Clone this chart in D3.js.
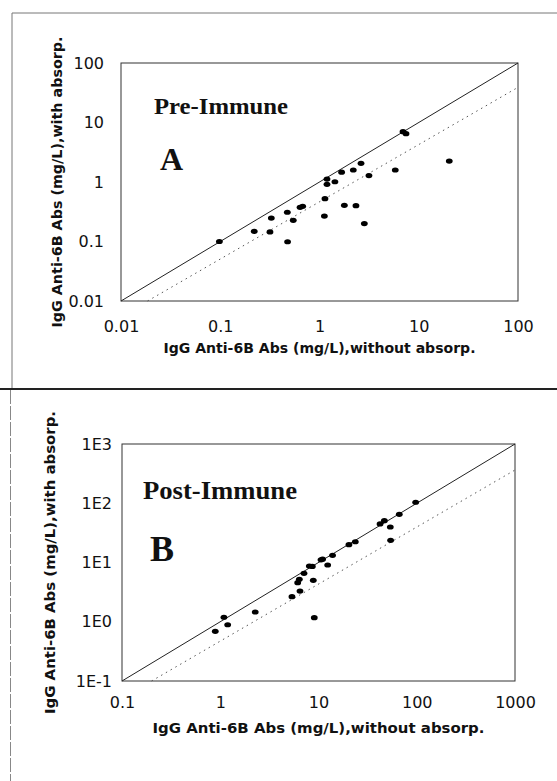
<!DOCTYPE html>
<html>
<head>
<meta charset="utf-8">
<script src="https://cdn.jsdelivr.net/npm/d3@7"></script>
<style>
  body { margin: 0; background: #fff; }
  svg { display: block; }
</style>
</head>
<body>
<svg id="chart" width="557" height="781"></svg>
<script>
// Panel A (pre-immune) values, mg/L
const preX = [0.098, 0.22, 0.317, 0.327, 0.477, 0.474, 0.544, 0.637, 0.677, 1.12, 1.135, 1.19, 1.19, 1.43, 1.67, 1.78, 2.19, 2.33, 2.62, 2.83, 3.15, 5.8, 6.94, 7.44, 20.3];
const preY = [0.1, 0.148, 0.145, 0.248, 0.099, 0.31, 0.227, 0.376, 0.39, 0.268, 0.525, 1.12, 0.914, 1.01, 1.46, 0.406, 1.59, 0.4, 2.06, 0.2, 1.28, 1.59, 7.0, 6.5, 2.25];

// Panel B (post-immune) values, mg/L
const postX = [0.89, 1.09, 1.19, 2.27, 5.37, 6.14, 6.38, 6.48, 7.12, 8.06, 8.65, 8.85, 9.06, 10.6, 11.0, 12.4, 13.9, 20.4, 23.7, 42.3, 46.8, 53.8, 54.2, 66.4, 97.5];
const postY = [0.69, 1.19, 0.89, 1.46, 2.65, 4.57, 5.2, 3.3, 6.56, 8.73, 8.6, 5.0, 1.17, 11.1, 11.4, 9.08, 13.2, 20.0, 22.4, 44.7, 50.8, 39.7, 23.7, 65.1, 104];

// dotted reference lines (end points)
const preFit = [[0.0185, 0.01], [100, 39]];
const postFit = [[0.2, 0.1], [1000, 364]];

const preTicks = [0.01, 0.1, 1, 10, 100];
const preTickLabels = ["0.01", "0.1", "1", "10", "100"];
const postXTicks = [0.1, 1, 10, 100, 1000];
const postXTickLabels = ["0.1", "1", "10", "100", "1000"];
const postYTicks = [0.1, 1, 10, 100, 1000];
const postYTickLabels = ["1E-1", "1E0", "1E1", "1E2", "1E3"];

const xTitle = "IgG Anti-6B Abs (mg/L),without absorp.";
const yTitle = "IgG Anti-6B Abs (mg/L),with absorp.";

const sans = "'DejaVu Sans', Arial, sans-serif";
const serif = "'Liberation Serif', 'Times New Roman', serif";

const svg = d3.select("#chart");

// panel frames
svg.append("path").attr("d", "M12,388V13H557").attr("fill", "none")
    .attr("stroke", "#777").attr("stroke-width", 1);
svg.append("line").attr("x1", 0).attr("x2", 557).attr("y1", 389).attr("y2", 389)
    .attr("stroke", "#222").attr("stroke-width", 2);
svg.append("line").attr("x1", 10.5).attr("x2", 10.5).attr("y1", 390).attr("y2", 781)
    .attr("stroke", "#888").attr("stroke-width", 1).attr("stroke-dasharray", "14,2");

function panel(o) {
    const x = d3.scaleLog().domain(o.xDomain).range([o.left, o.right]);
    const y = d3.scaleLog().domain(o.yDomain).range([o.bottom, o.top]);
    const g = svg.append("g");

    g.append("rect")
        .attr("x", o.left).attr("y", o.top)
        .attr("width", o.right - o.left).attr("height", o.bottom - o.top)
        .attr("fill", "none").attr("stroke", "#333").attr("stroke-width", 1);

    const xAxis = g.append("g")
        .attr("transform", `translate(0,${o.bottom})`)
        .call(d3.axisBottom(x).tickValues(o.xTicks).tickSize(0).tickPadding(o.xPad)
            .tickFormat((d, i) => o.xLabels[i]));
    const yAxis = g.append("g")
        .attr("transform", `translate(${o.left},0)`)
        .call(d3.axisLeft(y).tickValues(o.yTicks).tickSize(0).tickPadding(o.yPad)
            .tickFormat((d, i) => o.yLabels[i]));
    [xAxis, yAxis].forEach(a => {
        a.select(".domain").remove();
        a.selectAll("text").attr("font-family", sans)
            .attr("font-size", "16px").attr("fill", "#111");
    });

    // identity line
    const line = d3.line().x(d => x(d[0])).y(d => y(d[1]));
    g.append("path")
        .attr("d", line([[o.xDomain[0], o.yDomain[0]], [o.xDomain[1], o.yDomain[1]]]))
        .attr("stroke", "#222").attr("stroke-width", 1).attr("fill", "none");
    g.append("path")
        .attr("d", line(o.fit))
        .attr("stroke", "#555").attr("stroke-width", 1).attr("fill", "none")
        .attr("stroke-dasharray", "1.5,4");

    g.selectAll("ellipse")
        .data(o.xs.map((v, i) => [v, o.ys[i]]))
        .enter().append("ellipse")
        .attr("cx", d => x(d[0]))
        .attr("cy", d => y(d[1]))
        .attr("rx", 3.4).attr("ry", 2.6)
        .attr("fill", "#000");

    // titles
    g.append("text")
        .attr("x", (o.left + o.right) / 2).attr("y", o.xTitleY)
        .attr("text-anchor", "middle")
        .attr("font-family", sans)
        .attr("font-weight", "bold").attr("font-size", "14px")
        .attr("textLength", o.xTitleLen).attr("lengthAdjust", "spacingAndGlyphs")
        .attr("fill", "#111")
        .text(xTitle);
    g.append("text")
        .attr("transform", `translate(${o.yTitleX},${(o.top + o.bottom) / 2}) rotate(-90)`)
        .attr("text-anchor", "middle")
        .attr("font-family", sans)
        .attr("font-weight", "bold").attr("font-size", "14px")
        .attr("textLength", o.yTitleLen).attr("lengthAdjust", "spacingAndGlyphs")
        .attr("fill", "#111")
        .text(yTitle);

    g.append("text")
        .attr("x", o.nameX).attr("y", o.nameY)
        .attr("font-family", serif)
        .attr("font-weight", "bold").attr("font-size", o.nameSize + "px")
        .attr("textLength", o.nameLen).attr("lengthAdjust", "spacingAndGlyphs")
        .attr("fill", "#111")
        .text(o.name);
    g.append("text")
        .attr("x", o.letterX).attr("y", o.letterY)
        .attr("font-family", serif)
        .attr("font-weight", "bold").attr("font-size", o.letterSize + "px")
        .attr("fill", "#111")
        .text(o.letter);
}

panel({
    left: 121, right: 518, top: 63, bottom: 301,
    xDomain: [0.01, 100], yDomain: [0.01, 100],
    xTicks: preTicks, xLabels: preTickLabels, yTicks: preTicks, yLabels: preTickLabels,
    xPad: 20, yPad: 17,
    xs: preX, ys: preY, fit: preFit,
    xTitleY: 353, yTitleX: 62, xTitleLen: 312, yTitleLen: 291,
    name: "Pre-Immune", nameX: 154, nameY: 114, nameSize: 24, nameLen: 134,
    letter: "A", letterX: 160, letterY: 170, letterSize: 32
});

panel({
    left: 122, right: 515, top: 444, bottom: 681,
    xDomain: [0.1, 1000], yDomain: [0.1, 1000],
    xTicks: postXTicks, xLabels: postXTickLabels, yTicks: postYTicks, yLabels: postYTickLabels,
    xPad: 16, yPad: 10,
    xs: postX, ys: postY, fit: postFit,
    xTitleY: 733, yTitleX: 55, xTitleLen: 332, yTitleLen: 303,
    name: "Post-Immune", nameX: 143, nameY: 499, nameSize: 25, nameLen: 154,
    letter: "B", letterX: 150, letterY: 561, letterSize: 36
});
</script>
</body>
</html>
